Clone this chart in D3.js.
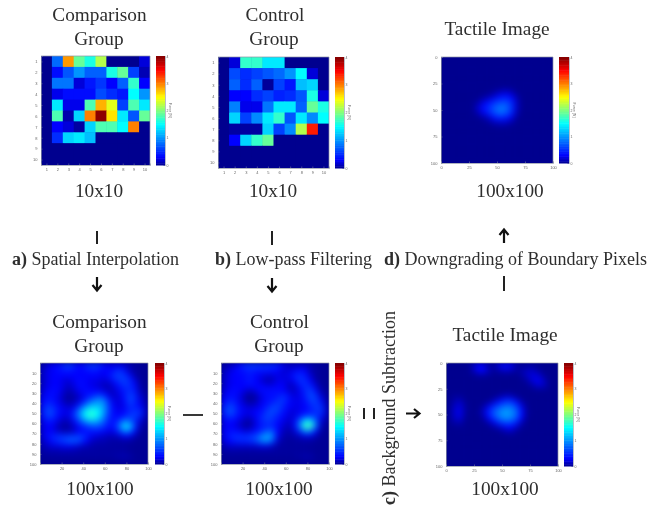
<!DOCTYPE html>
<html><head><meta charset="utf-8">
<script src="https://cdn.jsdelivr.net/npm/d3@7"></script>
<style>html,body{margin:0;padding:0;background:#fff}svg{display:block}text{font-family:"Liberation Serif",serif;fill:#2e2e2e}.tick text,.small{font-family:"Liberation Sans",sans-serif;fill:#666}</style>
</head><body><svg id="c" width="669" height="508"></svg>
<script>
const compare10 = [
[0,.8,2.9,1.9,1.6,2.2,0,0,0,.2],
[0,.35,.7,1.0,.75,.75,1.6,1.9,.6,.1],
[0,.85,.85,.2,.4,.55,.3,.75,1.7,.3],
[0,.25,.35,.35,.35,.65,.5,.4,1.5,1.0],
[0,1.4,.25,.25,1.8,2.8,2.4,.6,1.8,1.4],
[0,1.8,.08,1.3,3.0,3.95,2.6,1.4,.7,1.9],
[0,.3,.2,.05,1.3,1.8,1.8,1.5,3.0,0],
[0,.5,1.3,1.4,1.2,0,0,0,0,0],
[0,0,0,0,0,0,0,0,0,0],
[0,0,0,0,0,0,0,0,0,0]];
const control10 = [
[0,.2,1.7,1.7,1.4,1.4,0,0,0,0],
[0,.65,.5,.6,.7,.8,1.0,1.5,.2,0],
[0,.75,.5,.75,.03,.6,.4,1.2,1.3,0],
[0,.3,.3,.5,.6,.45,.5,.7,1.6,.2],
[0,.9,.25,.25,.85,1.4,1.4,.75,1.9,1.6],
[0,1.3,.6,.95,1.4,1.7,.7,1.4,.95,1.5],
[0,.05,.05,.05,1.3,.6,.95,2.2,3.4,0],
[0,.3,1.3,1.7,1.9,0,0,0,0,0],
[0,0,0,0,0,0,0,0,0,0],
[0,0,0,0,0,0,0,0,0,0]];
const tactileTop = [
[0,0,0,0,0,0,0,0,0,0,0,0,0,0,0,0,0,0,0,0],
[0,0,0,0,0,0,0,0,0,0,0,0,0,0,0,0,0,0,0,0],
[0,0,0,0,0,0,0,0,0,0,0,0,0,0,0,0,0,0,0,0],
[0,0,0,0,0,0,0,0,0,0,0,0,0,0,0,0,0,0,0,0],
[0,0,0,0,0,0,0,0,0,0,0,0,0,0,0,0,0,0,0,0],
[0,0,0,0,0,0,0,0,0,0,0,0,0,0,0,0,0,0,0,0],
[0,0,0,0,0,0,0,0,0,.03,.1,.15,.1,0,0,0,0,0,0,0],
[0,0,0,0,0,0,0,.03,.1,.2,.35,.4,.3,.1,0,0,0,0,0,0],
[0,0,0,0,0,0,.05,.2,.35,.5,.6,.65,.5,.15,0,0,0,0,0,0],
[0,0,0,0,0,0,.15,.35,.5,.7,.85,.8,.55,.15,0,0,0,0,0,0],
[0,0,0,0,0,0,.1,.25,.45,.65,.8,.75,.5,.12,0,0,0,0,0,0],
[0,0,0,0,0,0,0,.05,.15,.35,.45,.4,.25,.03,0,0,0,0,0,0],
[0,0,0,0,0,0,0,0,.02,.08,.12,.12,.05,0,0,0,0,0,0,0],
[0,0,0,0,0,0,0,0,0,0,0,0,0,0,0,0,0,0,0,0],
[0,0,0,0,0,0,0,0,0,0,0,0,0,0,0,0,0,0,0,0],
[0,0,0,0,0,0,0,0,0,0,0,0,0,0,0,0,0,0,0,0],
[0,0,0,0,0,0,0,0,0,0,0,0,0,0,0,0,0,0,0,0],
[0,0,0,0,0,0,0,0,0,0,0,0,0,0,0,0,0,0,0,0],
[0,0,0,0,0,0,0,0,0,0,0,0,0,0,0,0,0,0,0,0],
[0,0,0,0,0,0,0,0,0,0,0,0,0,0,0,0,0,0,0,0]];
const compare100 = [
[.10,.20,.30,.35,.50,.60,.40,.30,.45,.55,.55,.40,.25,.25,.25,.20,.10,.05,.03,.02],
[.15,.25,.30,.35,.40,.40,.35,.30,.35,.40,.40,.30,.30,.35,.50,.40,.15,.05,.03,.02],
[.15,.25,.30,.30,.30,.30,.30,.30,.30,.30,.30,.25,.30,.50,.60,.55,.35,.10,.03,.02],
[.15,.25,.30,.30,.20,.20,.30,.35,.30,.25,.25,.20,.20,.35,.50,.60,.50,.25,.05,.02],
[.15,.25,.30,.30,.20,.15,.25,.35,.30,.25,.20,.15,.10,.20,.35,.50,.50,.35,.08,.02],
[.20,.30,.35,.30,.15,.10,.20,.30,.35,.30,.30,.25,.15,.15,.25,.40,.50,.40,.12,.03],
[.25,.35,.35,.25,.10,.05,.10,.20,.35,.45,.60,.60,.30,.15,.20,.35,.60,.50,.20,.05],
[.30,.40,.35,.25,.10,.05,.10,.25,.50,.80,.95,1.0,.60,.25,.20,.30,.60,.50,.25,.08],
[.35,.55,.45,.30,.20,.15,.25,.55,.95,1.2,1.2,1.1,.70,.30,.20,.25,.50,.45,.30,.10],
[.40,.65,.55,.35,.25,.25,.50,1.0,1.4,1.6,1.5,1.2,.70,.35,.25,.30,.45,.50,.50,.15],
[.35,.60,.50,.30,.20,.25,.60,1.0,1.5,1.7,1.5,1.1,.60,.35,.30,.40,.55,.60,.45,.10],
[.25,.40,.35,.20,.10,.15,.35,.70,1.0,1.2,1.1,.85,.50,.35,.50,.85,.80,.50,.20,.05],
[.20,.30,.25,.10,.05,.08,.20,.40,.55,.65,.70,.60,.40,.35,.70,1.3,1.3,.60,.12,.03],
[.20,.30,.25,.15,.10,.10,.20,.30,.35,.40,.40,.35,.25,.25,.45,.85,.85,.35,.06,.02],
[.20,.35,.45,.50,.50,.55,.55,.60,.45,.25,.20,.15,.12,.10,.15,.25,.25,.10,.03,.02],
[.15,.25,.40,.50,.60,.70,.70,.55,.30,.15,.10,.10,.08,.06,.05,.05,.05,.03,.02,.02],
[.10,.15,.20,.20,.25,.25,.20,.15,.10,.08,.06,.06,.05,.05,.05,.05,.03,.02,.02,.02],
[.06,.08,.08,.08,.10,.08,.08,.06,.06,.06,.05,.05,.05,.05,.05,.05,.03,.02,.02,.02],
[.04,.04,.05,.05,.05,.05,.05,.05,.05,.05,.05,.05,.05,.06,.08,.10,.08,.03,.02,.02],
[.02,.02,.02,.02,.02,.02,.02,.02,.02,.02,.02,.02,.02,.02,.03,.03,.03,.02,.02,.02]];
const control100 = [
[.08,.12,.20,.35,.50,.55,.55,.50,.50,.50,.45,.25,.15,.15,.15,.15,.08,.05,.03,.02],
[.12,.20,.30,.35,.40,.45,.40,.40,.40,.35,.30,.20,.20,.25,.35,.30,.12,.05,.03,.02],
[.15,.25,.30,.30,.35,.40,.30,.25,.20,.20,.25,.20,.25,.40,.50,.40,.20,.05,.03,.02],
[.15,.25,.30,.30,.35,.40,.30,.20,.10,.12,.25,.25,.20,.30,.50,.50,.30,.10,.03,.02],
[.15,.25,.30,.30,.30,.35,.30,.30,.25,.25,.30,.30,.15,.15,.35,.50,.45,.20,.05,.02],
[.20,.30,.35,.30,.20,.15,.25,.35,.35,.35,.35,.30,.20,.15,.25,.45,.60,.35,.10,.03],
[.25,.35,.35,.25,.08,.03,.10,.25,.35,.35,.40,.50,.35,.20,.25,.40,.65,.55,.20,.05],
[.30,.45,.40,.25,.10,.03,.10,.25,.35,.40,.50,.55,.35,.25,.25,.35,.55,.60,.35,.08],
[.40,.60,.50,.30,.20,.15,.20,.30,.40,.55,.60,.45,.30,.25,.25,.30,.45,.55,.50,.12],
[.45,.70,.55,.35,.25,.25,.30,.35,.55,.65,.55,.40,.25,.20,.25,.30,.40,.50,.55,.15],
[.35,.55,.45,.30,.20,.20,.30,.45,.60,.55,.45,.30,.20,.20,.35,.55,.60,.55,.40,.10],
[.25,.35,.30,.20,.08,.08,.25,.45,.55,.50,.35,.25,.15,.25,.70,1.3,1.4,.75,.20,.05],
[.25,.30,.25,.15,.05,.08,.25,.40,.45,.45,.30,.18,.10,.25,.85,1.7,1.8,.90,.12,.03],
[.25,.35,.35,.30,.20,.25,.35,.50,.70,.70,.30,.12,.08,.15,.45,.90,.90,.35,.06,.02],
[.25,.40,.50,.50,.50,.55,.65,.90,1.1,.90,.25,.08,.05,.08,.12,.20,.20,.10,.03,.02],
[.20,.30,.40,.45,.45,.50,.60,.85,.95,.65,.15,.05,.04,.04,.05,.05,.05,.03,.02,.02],
[.10,.15,.15,.15,.15,.15,.15,.20,.20,.12,.05,.04,.04,.04,.04,.04,.03,.02,.02,.02],
[.05,.06,.06,.06,.05,.05,.05,.05,.05,.05,.05,.04,.04,.04,.04,.04,.03,.02,.02,.02],
[.03,.03,.03,.03,.03,.03,.03,.03,.03,.03,.03,.03,.03,.04,.06,.08,.08,.03,.02,.02],
[.02,.02,.02,.02,.02,.02,.02,.02,.02,.02,.02,.02,.02,.02,.02,.03,.03,.02,.02,.02]];
const tactileBottom = [
[0,0,0,0,.05,.25,.3,.08,.03,.25,.35,.3,.08,.02,.04,.04,0,0,0,0],
[0,0,0,0,.04,.25,.32,.15,.03,.08,.15,.12,.04,.08,.15,.15,.06,0,0,0],
[0,0,0,0,0,.02,.04,.02,0,0,0,0,0,.04,.15,.22,.2,.04,0,0],
[0,0,0,0,0,0,0,0,0,0,0,0,0,0,.06,.2,.28,.15,0,0],
[0,0,0,0,0,0,0,0,0,0,0,0,0,0,0,.06,.15,.12,0,0],
[0,0,0,0,0,0,0,0,0,0,0,0,0,0,0,0,0,0,0,0],
[0,.04,.04,0,0,0,0,0,0,.06,.15,.15,.04,0,0,0,0,0,0,0],
[0,.08,.15,.02,0,0,0,.02,.15,.35,.5,.55,.35,.08,0,0,0,0,0,0],
[0,.15,.22,.04,0,0,.04,.25,.5,.7,.85,.85,.65,.25,.02,0,0,0,0,0],
[0,.18,.25,.04,0,0,.12,.4,.7,.9,1.05,1.0,.8,.35,.03,0,0,0,0,0],
[0,.15,.22,.02,0,0,.04,.3,.6,.85,1.0,.95,.75,.3,.02,0,0,0,0,0],
[0,.08,.1,0,0,0,0,.08,.25,.5,.65,.65,.45,.12,0,0,0,0,0,0],
[0,0,.02,0,0,0,0,0,.04,.12,.25,.3,.15,.02,0,0,0,0,0,0],
[0,0,0,0,0,0,0,0,0,0,.04,.08,.02,0,0,0,0,0,0,0],
[0,0,0,0,0,0,0,0,0,0,0,0,0,0,0,0,0,0,0,0],
[0,0,0,0,0,0,0,0,0,0,0,0,0,0,0,0,0,0,0,0],
[0,0,0,0,0,0,0,0,0,0,0,0,0,0,0,0,0,0,0,0],
[0,0,0,0,0,0,0,0,0,0,0,0,0,0,0,0,0,0,0,0],
[0,0,0,0,0,0,0,0,0,0,0,0,0,0,0,0,0,0,0,0],
[0,0,0,0,0,0,0,0,0,0,0,0,0,0,0,0,0,0,0,0]];

const ticks10 = [1,2,3,4,5,6,7,8,9,10];
const ticks25 = [0,25,50,75,100];
const ticks10s = [10,20,30,40,50,60,70,80,90,100];
const ticks20s = [20,40,60,80,100];
const forceTicks = [0,1,2,3,4];
const titleLines = [
 {t:"Comparison",x:99.5,y:21},{t:"Group",x:99,y:45},
 {t:"Control",x:275,y:21},{t:"Group",x:274,y:45},
 {t:"Tactile Image",x:497,y:35},
 {t:"10x10",x:99,y:197},{t:"10x10",x:273,y:197},{t:"100x100",x:510,y:197},
 {t:"Comparison",x:99.5,y:328},{t:"Group",x:99,y:352},
 {t:"Control",x:279.5,y:328},{t:"Group",x:279,y:352},
 {t:"Tactile Image",x:505,y:341},
 {t:"100x100",x:100,y:495},{t:"100x100",x:279,y:495},{t:"100x100",x:505,y:495}];
const stepLabels = [
 {b:"a)",t:" Spatial Interpolation",x:12,y:265},
 {b:"b)",t:" Low-pass Filtering",x:215,y:265},
 {b:"d)",t:" Downgrading of Boundary Pixels",x:384,y:265}];

const svg = d3.select("#c");
const defs = svg.append("defs");
const mkBlur=(id,s)=>defs.append("filter").attr("id",id).attr("x","-10%").attr("y","-10%").attr("width","120%").attr("height","120%")
  .attr("color-interpolation-filters","sRGB").append("feGaussianBlur").attr("stdDeviation",s);
mkBlur("soft",3.2); mkBlur("crisp",.55); mkBlur("ink",.3);

const jet = d3.scaleLinear().domain([0,.3,1.5,2.5,3.5,4])
  .range(["#00008f","#0000ff","#00ffff","#ffff00","#ff0000","#800000"]).clamp(true);

const panels = [
 {id:"p1",g:compare10,x0:41,x1:150,y0:56,y1:165,cb:[156,165],xd:[.5,10.5],xt:ticks10,yt:ticks10,f:"crisp"},
 {id:"p2",g:control10,x0:218,x1:329,y0:57,y1:168,cb:[335,344],xd:[.5,10.5],xt:ticks10,yt:ticks10,f:"crisp"},
 {id:"p3",g:tactileTop,x0:441,x1:553,y0:57,y1:163,cb:[559,569],xd:[0,100],xt:ticks25,yt:ticks25,f:"soft"},
 {id:"p4",g:compare100,x0:40,x1:148,y0:363,y1:464,cb:[155,164],xd:[0,100],xt:ticks20s,yt:ticks10s,f:"soft"},
 {id:"p5",g:control100,x0:221,x1:329,y0:363,y1:464,cb:[335,344],xd:[0,100],xt:ticks20s,yt:ticks10s,f:"soft"},
 {id:"p6",g:tactileBottom,x0:446,x1:558,y0:363,y1:466,cb:[564,573],xd:[0,100],xt:ticks25,yt:ticks25,f:"soft"}];

panels.forEach(p=>{
  const n=p.g.length, idx=d3.range(n);
  const bx=d3.scaleBand().domain(idx).range([p.x0,p.x1]);
  const by=d3.scaleBand().domain(idx).range([p.y0,p.y1]);
  defs.append("clipPath").attr("id","clip-"+p.id).append("rect")
    .attr("x",p.x0).attr("y",p.y0).attr("width",p.x1-p.x0).attr("height",p.y1-p.y0);
  const outer=svg.append("g").attr("clip-path",`url(#clip-${p.id})`);
  outer.append("rect").attr("x",p.x0).attr("y",p.y0).attr("width",p.x1-p.x0).attr("height",p.y1-p.y0).attr("fill",jet(0));
  const inner=outer.append("g").attr("filter",`url(#${p.f})`);
  inner.selectAll("g").data(p.g).join("g").each(function(row,r){
    d3.select(this).selectAll("rect").data(row).join("rect")
      .attr("x",(d,c)=>bx(c)).attr("y",by(r)).attr("width",bx.bandwidth()+.5).attr("height",by.bandwidth()+.5)
      .attr("fill",d=>jet(d));
  });
  const sx=d3.scaleLinear().domain(p.xd).range([p.x0,p.x1]);
  const sy=d3.scaleLinear().domain(p.xd).range([p.y0,p.y1]);
  const axes=svg.append("g").attr("filter","url(#ink)");
  const ax=axes.append("g").attr("transform",`translate(0,${p.y1})`)
    .call(d3.axisBottom(sx).tickValues(p.xt).tickSize(-1.5).tickPadding(3.5));
  const ay=axes.append("g").attr("transform",`translate(${p.x0},0)`)
    .call(d3.axisLeft(sy).tickValues(p.yt).tickSize(-1.5).tickPadding(3.5));
  [ax,ay].forEach(a=>{a.selectAll(".domain").attr("stroke","#8c93a5").attr("stroke-width",.7);
    a.selectAll("line").attr("stroke","#8c93a5").attr("stroke-width",.5);
    a.selectAll("text").attr("font-size",4).style("font-family","Liberation Sans");});
  axes.append("path").attr("d",`M${p.x0},${p.y0}H${p.x1}V${p.y1}`).attr("fill","none").attr("stroke","#8c93a5").attr("stroke-width",.7);
  const cs=d3.scaleLinear().domain([0,4]).range([p.y1,p.y0]);
  const steps=d3.range(0,4,4/64);
  svg.append("g").attr("filter","url(#ink)").selectAll("rect").data(steps).join("rect")
    .attr("x",p.cb[0]).attr("width",p.cb[1]-p.cb[0])
    .attr("y",d=>cs(d+4/64)).attr("height",d=>cs(d)-cs(d+4/64)+.5).attr("fill",d=>jet(d+2/64));
  const ca=axes.append("g").attr("transform",`translate(${p.cb[1]},0)`)
    .call(d3.axisRight(cs).tickValues(forceTicks).tickFormat(d3.format("d")).tickSize(-1.5).tickPadding(1.5));
  ca.selectAll(".domain").attr("stroke","#8c93a5").attr("stroke-width",.6);
  ca.selectAll("line").attr("stroke","#8c93a5").attr("stroke-width",.5);
  ca.selectAll("text").attr("font-size",3.5).style("font-family","Liberation Sans");
  axes.append("text").attr("class","small").attr("font-size",3.6).attr("text-anchor","middle")
    .attr("transform",`translate(${p.cb[1]+3.5},${(p.y0+p.y1)/2}) rotate(90)`).text("Force [N]");
});

const ink=svg.append("g").attr("filter","url(#ink)");
ink.selectAll("text.title").data(titleLines).join("text").attr("class","title")
  .attr("x",d=>d.x).attr("y",d=>d.y).attr("text-anchor","middle").attr("font-size",19.3).text(d=>d.t);
stepLabels.forEach(s=>{
  const t=ink.append("text").attr("x",s.x).attr("y",s.y).attr("font-size",18);
  t.append("tspan").attr("font-weight","bold").text(s.b);
  t.append("tspan").text(s.t);
});
const c=ink.append("text").attr("transform","translate(395,505) rotate(-90)").attr("font-size",18);
c.append("tspan").attr("font-weight","bold").text("c)");
c.append("tspan").text(" Background Subtraction");

const arrow=(x,y,dir)=>{
  ink.append("path").attr("transform",`translate(${x},${y}) rotate(${dir})`)
    .attr("d","M-7,0H6M1,-4.5L6.5,0L1,4.5").attr("fill","none").attr("stroke","#111").attr("stroke-width",2.2);
};
const rule=(x1,y1,x2,y2,w)=>ink.append("line").attr("x1",x1).attr("y1",y1).attr("x2",x2).attr("y2",y2).attr("stroke","#222").attr("stroke-width",w||2);
rule(97,231,97,244); rule(272,231,272,245); rule(504,276,504,291);
arrow(97,284,90); arrow(272,285,90); arrow(504,236,-90); arrow(413,413.5,0);
rule(183,415,203,415,1.8);
rule(364,408,364,419,2); rule(374,408,374,419,2);
</script></body></html>
